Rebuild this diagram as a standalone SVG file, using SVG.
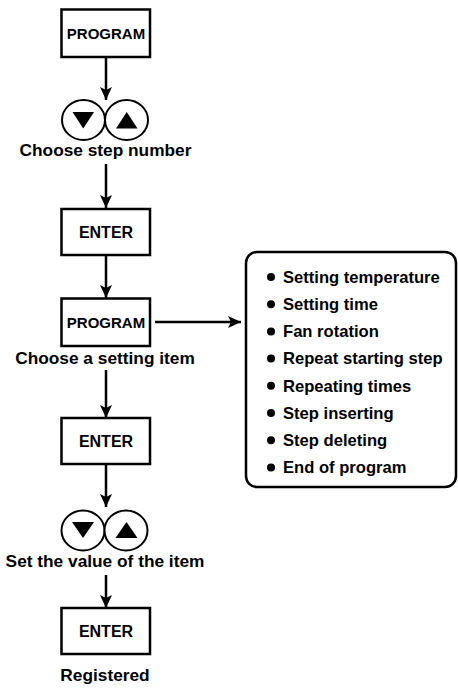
<svg xmlns="http://www.w3.org/2000/svg" width="458" height="688" viewBox="0 0 458 688">
<style>
text{font-family:"Liberation Sans",Arial,Helvetica,sans-serif;font-weight:bold;fill:#000}
.box{fill:#fff;stroke:#000;stroke-width:2.5}
.btn{fill:#fff;stroke:#000;stroke-width:2}
.tri{fill:#000}
.lbl{font-size:17.3px;text-anchor:middle}
.key{text-anchor:middle}
.item{font-size:16.6px}
.con{stroke:#000;stroke-width:2.5;fill:none}
</style>
<defs>
<marker id="ah" markerUnits="userSpaceOnUse" markerWidth="13" markerHeight="12" viewBox="0 0 13 12" refX="13" refY="6" orient="auto">
<path d="M0,0 L13,6 L0,12 L3,6 z" fill="#000"/>
</marker>
</defs>
<rect width="458" height="688" fill="#fff"/>
<g id="connectors">
<line class="con" x1="106" y1="57" x2="106" y2="100" marker-end="url(#ah)"/>
<line class="con" x1="106" y1="164" x2="106" y2="208" marker-end="url(#ah)"/>
<line class="con" x1="106" y1="255" x2="106" y2="298" marker-end="url(#ah)"/>
<line class="con" x1="155" y1="322" x2="241" y2="322" marker-end="url(#ah)"/>
<line class="con" x1="106" y1="370" x2="106" y2="418" marker-end="url(#ah)"/>
<line class="con" x1="106" y1="464" x2="106" y2="507" marker-end="url(#ah)"/>
<line class="con" x1="106" y1="575" x2="106" y2="608" marker-end="url(#ah)"/>
</g>
<g id="program1">
<rect class="box" x="61.5" y="9.5" width="88.5" height="47.5"/>
<text class="key" x="106" y="38.5" font-size="15">PROGRAM</text>
</g>
<g id="arrows1">
<ellipse class="btn" cx="83.5" cy="120" rx="21.5" ry="20"/>
<path class="tri" d="M72.5,112 L94,112 L83.25,128.5 z"/>
<ellipse class="btn" cx="126.5" cy="120" rx="21.5" ry="20"/>
<path class="tri" d="M116,128.5 L137.5,128.5 L126.75,112 z"/>
<text class="lbl" x="105.5" y="156">Choose step number</text>
</g>
<g id="enter1">
<rect class="box" x="61.5" y="209" width="88.5" height="46"/>
<text class="key" x="106" y="238" font-size="16">ENTER</text>
</g>
<g id="program2">
<rect class="box" x="61.5" y="298.5" width="88.5" height="47.5"/>
<text class="key" x="106" y="328" font-size="15">PROGRAM</text>
<text class="lbl" x="105" y="364">Choose a setting item</text>
</g>
<g id="enter2">
<rect class="box" x="61.5" y="418" width="88.5" height="46"/>
<text class="key" x="106" y="447" font-size="16">ENTER</text>
</g>
<g id="arrows2">
<ellipse class="btn" cx="83" cy="530.5" rx="21.5" ry="20"/>
<path class="tri" d="M72,522 L94,522 L83,538 z"/>
<ellipse class="btn" cx="126" cy="530.5" rx="21.5" ry="20"/>
<path class="tri" d="M115.5,538 L137.5,538 L126.5,522 z"/>
<text class="lbl" x="105" y="566.5">Set the value of the item</text>
</g>
<g id="enter3">
<rect class="box" x="61.5" y="608" width="88.5" height="46"/>
<text class="key" x="106" y="637" font-size="16">ENTER</text>
<text class="lbl" x="105" y="681">Registered</text>
</g>
<g id="items">
<rect class="box" x="246" y="252" width="210" height="235" rx="11" ry="11" fill="none"/>
<circle cx="271" cy="277" r="4"/>
<text class="item" x="283" y="282.7">Setting temperature</text>
<circle cx="271" cy="304.2" r="4"/>
<text class="item" x="283" y="309.9">Setting time</text>
<circle cx="271" cy="331.4" r="4"/>
<text class="item" x="283" y="337.1">Fan rotation</text>
<circle cx="271" cy="358.6" r="4"/>
<text class="item" x="283" y="364.3">Repeat starting step</text>
<circle cx="271" cy="385.8" r="4"/>
<text class="item" x="283" y="391.5">Repeating times</text>
<circle cx="271" cy="413" r="4"/>
<text class="item" x="283" y="418.7">Step inserting</text>
<circle cx="271" cy="440.2" r="4"/>
<text class="item" x="283" y="445.9">Step deleting</text>
<circle cx="271" cy="467.4" r="4"/>
<text class="item" x="283" y="473.1">End of program</text>
</g>
</svg>
